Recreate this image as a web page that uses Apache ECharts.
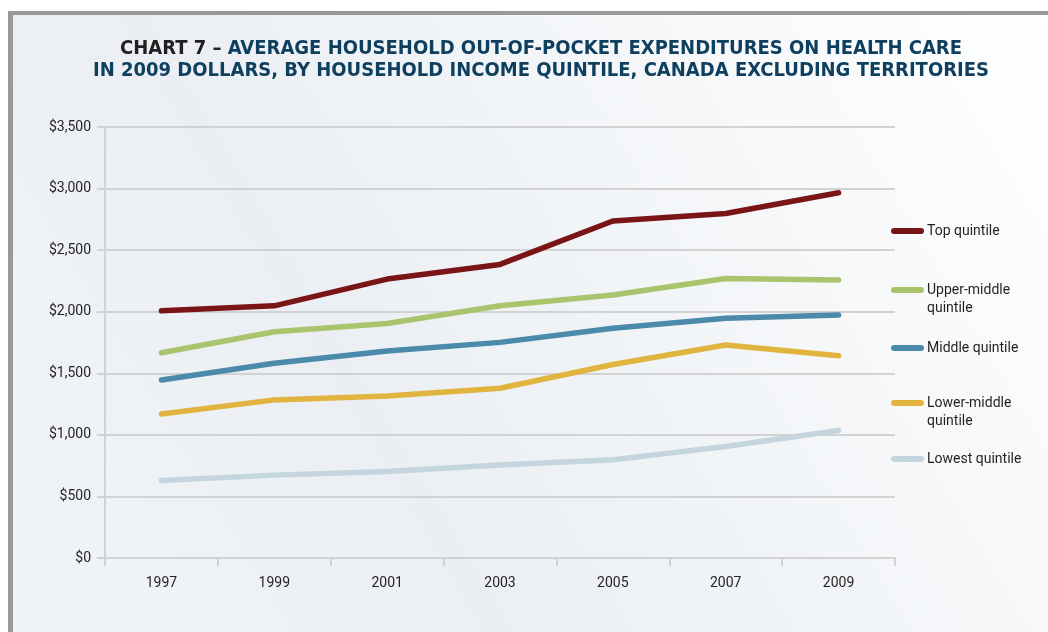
<!DOCTYPE html>
<html><head><meta charset="utf-8">
<script src="https://cdn.jsdelivr.net/npm/echarts@6/dist/echarts.min.js"></script>
<style>html,body{margin:0;padding:0;background:#fff}#c{width:1048px;height:632px}</style>
</head><body><div id="c"></div>
<script>
const years = ['1997','1999','2001','2003','2005','2007','2009'];
const seriesNames = ['Top quintile','Upper-middle quintile','Middle quintile','Lower-middle quintile','Lowest quintile'];
const topQ = [2007, 2048, 2265, 2384, 2737, 2797, 2966];
const upperMiddleQ = [1667, 1837, 1905, 2048, 2135, 2270, 2257];
const middleQ = [1446, 1581, 1681, 1751, 1865, 1946, 1973];
const lowerMiddleQ = [1170, 1284, 1316, 1378, 1571, 1730, 1643];
const lowestQ = [629, 673, 702, 756, 797, 905, 1035];
const yTicks = [0, 500, 1000, 1500, 2000, 2500, 3000, 3500];
const colors = ['#7a1517', '#a9c46c', '#4b8aaa', '#e0b43e', '#c5d5dd'];
const values = [topQ, upperMiddleQ, middleQ, lowerMiddleQ, lowestQ];

const chart = echarts.init(document.getElementById('c'), null, {renderer:'canvas'});
const labelFont = 'Roboto, "Liberation Sans", sans-serif';
const legendFirstLine = ['Top quintile','Upper-middle','Middle quintile','Lower-middle','Lowest quintile'];
const legendTops = [224, 283, 341, 396, 452];
const icon = 'path://M3,0H30A3,3,0,0,1,30,6H3A3,3,0,0,1,3,0Z';

const legends = seriesNames.map((n, i) => ({
  data: [n], left: 891, top: legendTops[i], padding: 0, orient: 'vertical',
  icon: icon, itemWidth: 33, itemHeight: 6, itemGap: 0,
  selectedMode: false,
  formatter: () => legendFirstLine[i],
  textStyle: {fontFamily: labelFont, fontSize: 14, color: '#231f20', padding: [0,0,0,-2]}
}));

const titleFont = '"DejaVu Sans Condensed", "DejaVu Sans", sans-serif';

chart.setOption({
  animation: false,
  graphic: [
    {type:'rect', z:-10, shape:{x:0,y:0,width:1048,height:632}, style:{fill:'#ffffff'}, silent:true},
    {type:'rect', z:-9, shape:{x:8,y:11,width:1040,height:621}, style:{fill:'#999999'}, silent:true},
    {type:'rect', z:-8, shape:{x:13,y:15,width:1035,height:617}, style:{fill: new echarts.graphic.LinearGradient(0,1,1,0,[
      {offset:0, color:'#f1f4f7'},{offset:0.35,color:'#ebeff3'},{offset:0.7,color:'#f5f7f9'},{offset:1,color:'#ffffff'}])}, silent:true},
    {type:'text', left:927, top:301, style:{text:'quintile', font:'14px ' + labelFont, fill:'#231f20'}},
    {type:'text', left:927, top:414, style:{text:'quintile', font:'14px ' + labelFont, fill:'#231f20'}}
  ],
  title: {
    text: '{a|CHART 7 – }{b|AVERAGE HOUSEHOLD OUT-OF-POCKET EXPENDITURES ON HEALTH CARE}\n{b|IN 2009 DOLLARS, BY HOUSEHOLD INCOME QUINTILE, CANADA EXCLUDING TERRITORIES}',
    left: 536, top: 33, textAlign: 'center',
    textStyle: {
      rich: {
        a: {fontFamily:titleFont, fontWeight:'bold', fontSize:20, color:'#231f20', lineHeight:22},
        b: {fontFamily:titleFont, fontWeight:'bold', fontSize:20, color:'#0e3f5f', lineHeight:22}
      }
    }
  },
  legend: legends,
  grid: {left:105, right:153, top:127, bottom:74, containLabel:false},
  xAxis: {
    type:'category', data: years, boundaryGap:true,
    axisLine:{show:true, lineStyle:{color:'#d2d2d2', width:2}},
    axisTick:{show:true, length:8, interval:0, lineStyle:{color:'#d2d2d2', width:2}},
    axisLabel:{fontFamily:labelFont, fontSize:14, color:'#231f20', margin:18},
    splitLine:{show:false}
  },
  yAxis: {
    type:'value', min:0, max:3500, interval:500,
    axisLine:{show:true, lineStyle:{color:'#d2d2d2', width:2}},
    axisTick:{show:true, length:8, inside:false, lineStyle:{color:'#d2d2d2', width:2}},
    axisLabel:{fontFamily:labelFont, fontSize:14, color:'#231f20', margin:14,
      formatter: v => yTicks.includes(v) ? '$' + v.toLocaleString('en-US') : ''},
    splitLine:{show:true, lineStyle:{color:'#d2d2d2', width:2}}
  },
  series: seriesNames.map((n, i) => ({
    name: n, type:'line', data: values[i], symbol:'none',
    lineStyle:{color: colors[i], width:5.5, cap:'round', join:'round'},
    itemStyle:{color: colors[i]},
    z: 10 - i
  }))
});
</script></body></html>
